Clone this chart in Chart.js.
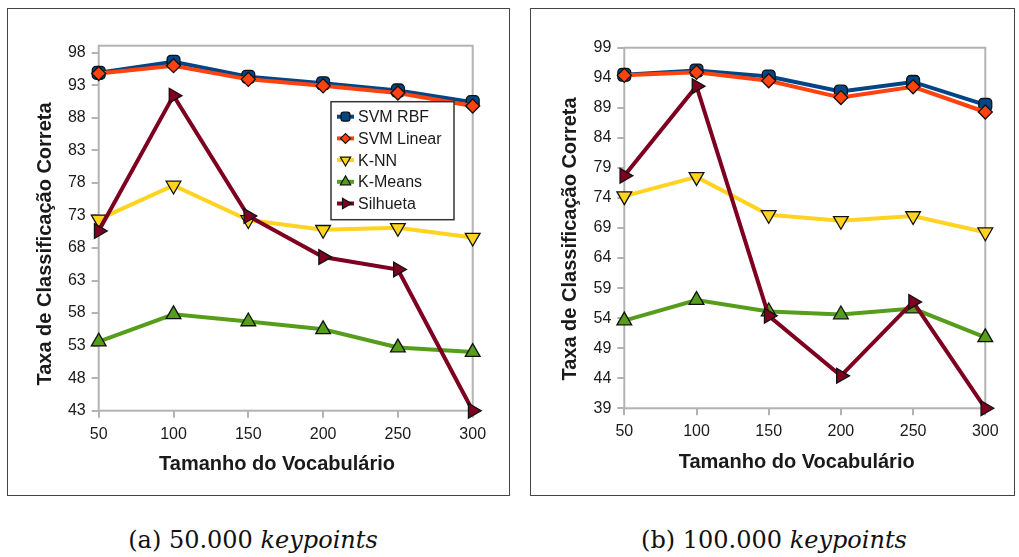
<!DOCTYPE html>
<html>
<head>
<meta charset="utf-8">
<script src="https://cdn.jsdelivr.net/npm/chart.js@4.4.0/dist/chart.umd.min.js"></script>
<style>
  body { margin: 0; background: #fff; width: 1019px; height: 557px; position: relative; overflow: hidden; }
  .box { position: absolute; border: 1px solid #444; background: #fff; }
  .box canvas { display: block; }
  .cap { position: absolute; top: 526px; font-family: "DejaVu Serif", serif; font-size: 24px; color: #111;
         transform: translateX(-50%); white-space: nowrap; }
</style>
</head>
<body>
<div class="box" style="left:7px;top:8px;width:501px;height:486px"><canvas id="chartA" width="501" height="486"></canvas></div>
<div class="box" style="left:530px;top:8px;width:483px;height:486px"><canvas id="chartB" width="483" height="486"></canvas></div>
<div class="cap" style="left:253px">(a) 50.000 <i>keypoints</i></div>
<div class="cap" style="left:774px">(b) 100.000 <i>keypoints</i></div>

<script>
// data
const vocab = ['50', '100', '150', '200', '250', '300'];
const seriesNames = ['SVM RBF', 'SVM Linear', 'K-NN', 'K-Means', 'Silhueta'];

// (a) 50.000 keypoints
const rbfA      = [94.9, 96.6, 94.3, 93.3, 92.2, 90.4];
const linearA   = [94.8, 96.0, 93.9, 92.9, 91.8, 89.8];
const knnA      = [72.4, 77.6, 72.3, 70.8, 71.1, 69.6];
const kmeansA   = [53.6, 57.8, 56.7, 55.5, 52.7, 52.0];
const silhuetaA = [70.6, 91.4, 72.9, 66.6, 64.7, 43.0];
const ticksA    = [43, 48, 53, 58, 63, 68, 73, 78, 83, 88, 93, 98];

// (b) 100.000 keypoints
const rbfB      = [94.5, 95.2, 94.2, 91.7, 93.3, 89.5];
const linearB   = [94.4, 94.9, 93.5, 90.7, 92.5, 88.3];
const knnB      = [74.3, 77.5, 71.2, 70.2, 71.0, 68.3];
const kmeansB   = [53.6, 57.0, 55.1, 54.6, 55.6, 50.8];
const silhuetaB = [77.7, 92.6, 54.4, 44.4, 56.7, 39.0];
const ticksB    = [39, 44, 49, 54, 59, 64, 69, 74, 79, 84, 89, 94, 99];

const xTitle = 'Tamanho do Vocabulário';
const yTitle = 'Taxa de Classificação Correta';

// libreoffice default palette
const looks = [
  { color: '#004586', point: 'rectRounded', rot: 0,   r: 7.5 },
  { color: '#ff420e', point: 'rectRot',     rot: 0,   r: 7   },
  { color: '#ffd320', point: 'triangle',    rot: 180, r: 8.5 },
  { color: '#579d1c', point: 'triangle',    rot: 0,   r: 8.5 },
  { color: '#7e0021', point: 'triangle',    rot: 90,  r: 8.5 }
];

Chart.defaults.font.family = '"Liberation Sans", Arial, sans-serif';
Chart.defaults.color = '#1a1a1a';

// plot frame, axis titles and the boxed legend
const framePlugin = {
  id: 'frame',
  beforeDatasetsDraw(chart) {
    const { ctx, chartArea: a } = chart;
    ctx.save();
    ctx.strokeStyle = '#b3b3b3';
    ctx.lineWidth = 2;
    ctx.strokeRect(a.left, a.top, a.right - a.left, a.bottom - a.top);
    ctx.restore();
  },
  afterDraw(chart, args, opts) {
    const { ctx, chartArea: a } = chart;
    ctx.save();
    ctx.fillStyle = '#1a1a1a';
    ctx.font = 'bold 20px "Liberation Sans", Arial, sans-serif';
    ctx.textAlign = 'center';
    ctx.textBaseline = 'middle';
    ctx.fillText(xTitle, opts.xTitle[0], opts.xTitle[1]);
    ctx.translate(opts.yTitle[0], opts.yTitle[1]);
    ctx.rotate(-Math.PI / 2);
    ctx.fillText(yTitle, 0, 0);
    ctx.restore();

    if (!opts.legend) return;
    const lx = a.left + opts.legend.dx, ly = a.top + opts.legend.dy;
    ctx.save();
    ctx.fillStyle = '#fff';
    ctx.fillRect(lx, ly, 123, 118);
    ctx.strokeStyle = '#333';
    ctx.lineWidth = 1.5;
    ctx.strokeRect(lx, ly, 123, 118);
    ctx.font = '16px "Liberation Sans", Arial, sans-serif';
    ctx.textBaseline = 'middle';
    seriesNames.forEach(function(name, i) {
      const cy = ly + 15 + i * 21.7;
      ctx.strokeStyle = looks[i].color;
      ctx.lineWidth = 4;
      ctx.beginPath();
      ctx.moveTo(lx + 6, cy);
      ctx.lineTo(lx + 23, cy);
      ctx.stroke();
      ctx.fillStyle = looks[i].color;
      ctx.strokeStyle = '#111';
      ctx.lineWidth = 1.2;
      Chart.helpers.drawPoint(ctx, {
        pointStyle: looks[i].point, rotation: looks[i].rot, radius: looks[i].r * 0.7, borderWidth: 1.2
      }, lx + 14.5, cy);
      ctx.fillStyle = '#1a1a1a';
      ctx.fillText(name, lx + 27, cy + 1);
    });
    ctx.restore();
  }
};

function makeChart(id, series, yTicks, yMin, yMax, area, extra) {
  const datasets = series.map(function(values, i) {
    return {
      label: seriesNames[i],
      data: values,
      borderColor: looks[i].color,
      backgroundColor: looks[i].color,
      borderWidth: 4,
      pointStyle: looks[i].point,
      pointRotation: looks[i].rot,
      pointRadius: looks[i].r,
      pointBackgroundColor: looks[i].color,
      pointBorderColor: '#111',
      pointBorderWidth: 1.3,
      tension: 0,
      clip: false,
      order: series.length - i
    };
  });

  return new Chart(document.getElementById(id), {
    type: 'line',
    data: { labels: vocab, datasets: datasets },
    options: {
      responsive: false,
      animation: false,
      events: [],
      layout: { padding: { top: area.top, right: area.right, left: 0, bottom: 0 } },
      plugins: {
        legend: { display: false },
        tooltip: { enabled: false },
        frame: extra
      },
      scales: {
        x: {
          offset: false,
          border: { display: false },
          grid: { drawOnChartArea: false, drawTicks: true, tickLength: 7, color: '#b3b3b3', lineWidth: 2 },
          ticks: { font: { size: 16 }, padding: 7, maxRotation: 0, color: '#1a1a1a' },
          afterFit: function(s) { s.height = area.bottom; }
        },
        y: {
          min: yMin,
          max: yMax,
          border: { display: false },
          grid: { drawOnChartArea: false, drawTicks: true, tickLength: 7, color: '#b3b3b3', lineWidth: 2 },
          ticks: { font: { size: 16 }, padding: 6, color: '#1a1a1a' },
          afterBuildTicks: function(s) { s.ticks = yTicks.map(function(v) { return { value: v }; }); },
          afterFit: function(s) { s.width = area.left; }
        }
      }
    },
    plugins: [framePlugin]
  });
}

makeChart('chartA', [rbfA, linearA, knnA, kmeansA, silhuetaA], ticksA, 43, 99.07,
  { left: 90.7, top: 36.7, right: 36.3, bottom: 84.3 },
  { xTitle: [269, 455.5], yTitle: [37, 235], legend: { dx: 232.3, dy: 56 } });

makeChart('chartB', [rbfB, linearB, knnB, kmeansB, silhuetaB], ticksB, 39, 99,
  { left: 93.3, top: 38.7, right: 28.7, bottom: 86.7 },
  { xTitle: [265.7, 453.7], yTitle: [39, 230], legend: null });
</script>
</body>
</html>
